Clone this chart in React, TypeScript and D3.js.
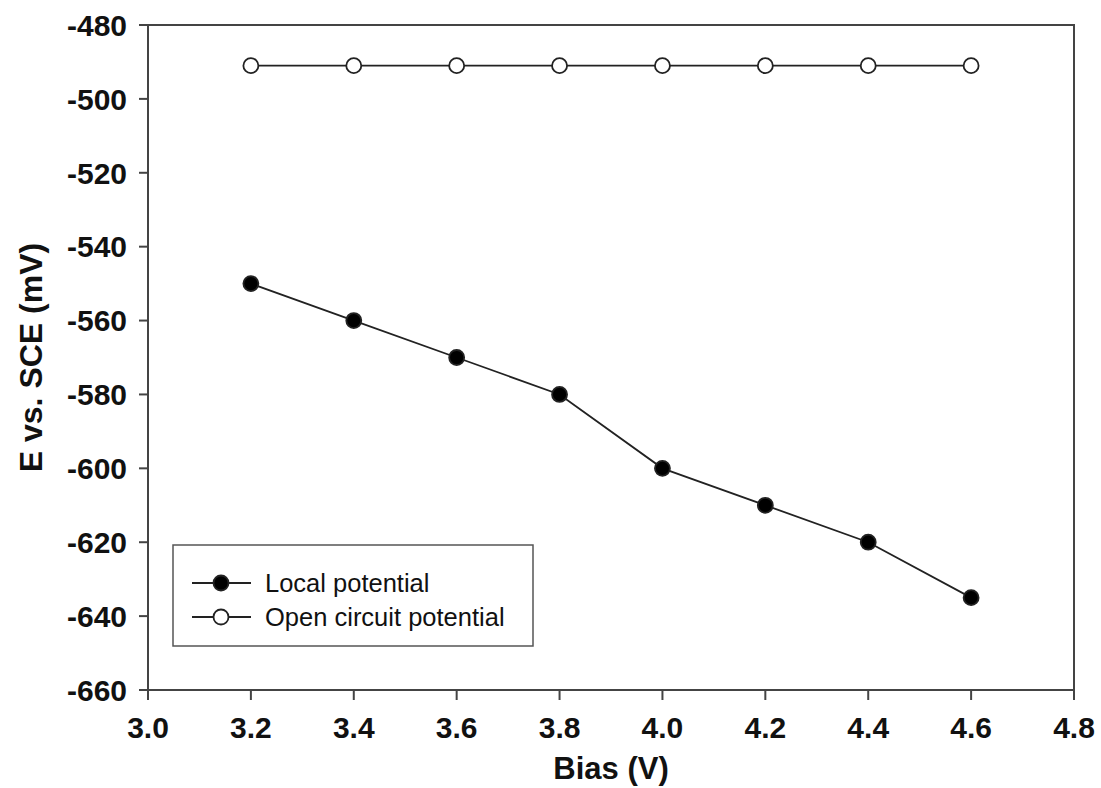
import * as d3 from "d3";

const biasValues = [3.2, 3.4, 3.6, 3.8, 4.0, 4.2, 4.4, 4.6];
const localPotential = [-550, -560, -570, -580, -600, -610, -620, -635];
const openCircuitPotential = [-491, -491, -491, -491, -491, -491, -491, -491];
const xTicks = [3.0, 3.2, 3.4, 3.6, 3.8, 4.0, 4.2, 4.4, 4.6, 4.8];
const yTicks = [-480, -500, -520, -540, -560, -580, -600, -620, -640, -660];
const legendLabels = ["Local potential", "Open circuit potential"];

const W = 1101;
const H = 788;
const margin = { top: 25, right: 27, bottom: 98, left: 148 };

const App = () => {
  const width = W - margin.left - margin.right;
  const height = H - margin.top - margin.bottom;

  const x = d3.scaleLinear().domain([3.0, 4.8]).range([0, width]);
  const y = d3.scaleLinear().domain([-660, -480]).range([height, 0]);

  const line = d3
    .line<number>()
    .x((d, i) => x(biasValues[i]))
    .y((d) => y(d));

  const axisColor = "#444";
  const lineColor = "#222";
  const font = "Arial, 'Liberation Sans', sans-serif";

  const series = [
    { values: localPotential, fill: "#000" },
    { values: openCircuitPotential, fill: "#fff" },
  ];

  return (
    <svg
      width={W}
      height={H}
      style={{ position: "absolute", left: 0, top: 0, background: "#fff" }}
    >
      <g transform={"translate(" + margin.left + "," + margin.top + ")"}>
        {/* frame */}
        <rect
          x={0}
          y={0}
          width={width}
          height={height}
          fill="none"
          stroke={axisColor}
          strokeWidth={2}
        />

        {/* y ticks */}
        {yTicks.map((t) => (
          <g key={"y" + t} transform={"translate(0," + y(t) + ")"}>
            <line x1={-9} x2={0} stroke={axisColor} strokeWidth={2} />
            <text
              x={-21}
              dy="0.36em"
              textAnchor="end"
              fontFamily={font}
              fontWeight="bold"
              fontSize={30}
              fill="#111"
            >
              {t}
            </text>
          </g>
        ))}

        {/* x ticks */}
        {xTicks.map((t) => (
          <g key={"x" + t} transform={"translate(" + x(t) + "," + height + ")"}>
            <line y1={0} y2={10} stroke={axisColor} strokeWidth={2} />
            <text
              y={48}
              textAnchor="middle"
              fontFamily={font}
              fontWeight="bold"
              fontSize={30}
              fill="#111"
            >
              {t.toFixed(1)}
            </text>
          </g>
        ))}

        {/* series */}
        {series.map((s, si) => (
          <g key={"s" + si}>
            <path
              d={line(s.values) || ""}
              fill="none"
              stroke={lineColor}
              strokeWidth={1.8}
            />
            {s.values.map((v, i) => (
              <circle
                key={i}
                cx={x(biasValues[i])}
                cy={y(v)}
                r={7.5}
                fill={s.fill}
                stroke={lineColor}
                strokeWidth={1.8}
              />
            ))}
          </g>
        ))}

        {/* legend */}
        <g transform="translate(25,520)">
          <rect
            x={0}
            y={0}
            width={360}
            height={101}
            fill="#fff"
            stroke="#555"
            strokeWidth={1.5}
          />
          {legendLabels.map((label, i) => (
            <g key={label} transform={"translate(0," + (38 + i * 34) + ")"}>
              <line x1={19} x2={78} stroke={lineColor} strokeWidth={1.8} />
              <circle
                cx={48}
                cy={0}
                r={7.5}
                fill={series[i].fill}
                stroke={lineColor}
                strokeWidth={1.8}
              />
              <text
                x={92}
                dy="0.35em"
                fontFamily={font}
                fontSize={25.5}
                fill="#111"
              >
                {label}
              </text>
            </g>
          ))}
        </g>
      </g>

      {/* axis titles */}
      <text
        x={margin.left + width / 2}
        y={779}
        textAnchor="middle"
        fontFamily={font}
        fontWeight="bold"
        fontSize={31}
        fill="#111"
      >
        Bias (V)
      </text>
      <text
        transform={"translate(42," + (margin.top + height / 2) + ") rotate(-90)"}
        textAnchor="middle"
        fontFamily={font}
        fontWeight="bold"
        fontSize={32}
        fill="#111"
      >
        E vs. SCE (mV)
      </text>
    </svg>
  );
};

export default App;
